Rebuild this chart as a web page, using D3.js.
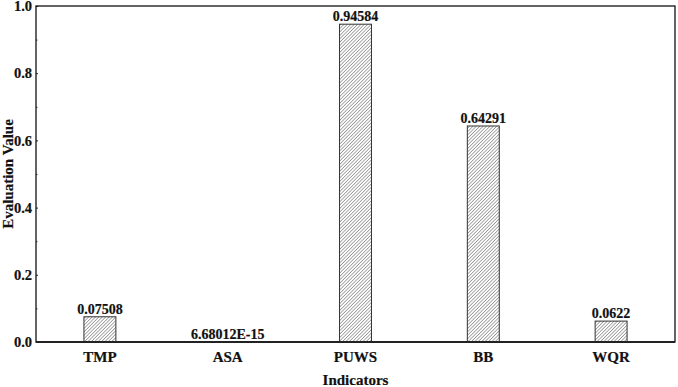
<!DOCTYPE html>
<html>
<head>
<meta charset="UTF-8">
<title>Evaluation Value</title>
<script src="https://d3js.org/d3.v7.min.js"></script>
<style>
  body { margin: 0; background: #fff; }
  svg text { font-family: "Liberation Serif", "Times New Roman", serif !important; font-weight: bold; fill: #111; stroke: #111; stroke-width: 0.2px; }
</style>
</head>
<body>
<div id="chart"></div>
<script>
// data
var categories = ["TMP", "ASA", "PUWS", "BB", "WQR"];
var values = [0.07508, 6.68012E-15, 0.94584, 0.64291, 0.0622];
var valueLabels = ["0.07508", "6.68012E-15", "0.94584", "0.64291", "0.0622"];
var yTicks = [0, 0.2, 0.4, 0.6, 0.8, 1.0];
var yMinorTicks = [0.1, 0.3, 0.5, 0.7, 0.9];

var width = 678, height = 387;
var margin = { top: 6, right: 3, bottom: 45, left: 36 };
var w = width - margin.left - margin.right;
var h = height - margin.top - margin.bottom;

var svg = d3.select("#chart").append("svg")
    .attr("width", width)
    .attr("height", height);

// hatch pattern
var step = 2.4;
var pat = svg.append("defs").append("pattern")
    .attr("id", "hatch")
    .attr("patternUnits", "userSpaceOnUse")
    .attr("width", step)
    .attr("height", step)
    .attr("patternTransform", "rotate(45)");
pat.append("rect").attr("width", step).attr("height", step).attr("fill", "#fff");
pat.append("line")
    .attr("x1", 0).attr("y1", 0).attr("x2", 0).attr("y2", step)
    .attr("stroke", "#555").attr("stroke-width", 1);

var g = svg.append("g").attr("transform", "translate(" + margin.left + "," + margin.top + ")");

var x = d3.scaleBand().domain(categories).range([0, w]).padding(0);
var y = d3.scaleLinear().domain([0, 1]).range([h, 0]);
var barW = x.bandwidth() * 0.25;

// bars
g.selectAll("rect.bar")
    .data(values)
    .enter().append("rect")
    .attr("class", "bar")
    .attr("x", function (d, i) { return x(categories[i]) + x.bandwidth() / 2 - barW / 2; })
    .attr("y", function (d) { return y(d); })
    .attr("width", barW)
    .attr("height", function (d) { return h - y(d); })
    .attr("fill", "url(#hatch)")
    .attr("stroke", "#333")
    .attr("stroke-width", 1);

// value labels
g.selectAll("text.val")
    .data(values)
    .enter().append("text")
    .attr("class", "val")
    .attr("x", function (d, i) { return x(categories[i]) + x.bandwidth() / 2; })
    .attr("y", function (d) { return y(d) - 3; })
    .attr("text-anchor", "middle")
    .attr("font-size", "14px")
    .text(function (d, i) { return valueLabels[i]; });

// y axis
var yAxis = g.append("g")
    .call(d3.axisLeft(y).tickValues(yTicks).tickFormat(d3.format(".1f")).tickSize(-2).tickPadding(4));
yAxis.selectAll("text").attr("font-size", "14.5px");
yAxis.selectAll(".tick line").attr("stroke", "#222");
yAxis.select(".domain").remove();
g.append("g")
    .call(d3.axisLeft(y).tickValues(yMinorTicks).tickFormat("").tickSize(-1.5))
    .call(function (s) { s.select(".domain").remove(); s.selectAll("line").attr("stroke", "#444"); });

// x axis
var xAxis = g.append("g")
    .attr("transform", "translate(0," + h + ")")
    .call(d3.axisBottom(x).tickSize(0).tickPadding(9));
xAxis.select(".domain").remove();
xAxis.selectAll("text").attr("font-size", "15px");

// frame
g.append("rect")
    .attr("width", w).attr("height", h)
    .attr("fill", "none")
    .attr("stroke", "#111")
    .attr("stroke-width", 1.3);
g.append("line")
    .attr("x1", 0).attr("x2", w).attr("y1", h).attr("y2", h)
    .attr("stroke", "#222").attr("stroke-width", 2);

// axis titles
svg.append("text")
    .attr("transform", "translate(13," + (margin.top + h / 2) + ") rotate(-90)")
    .attr("text-anchor", "middle")
    .attr("font-size", "15px")
    .text("Evaluation Value");
svg.append("text")
    .attr("x", margin.left + w / 2)
    .attr("y", 385)
    .attr("text-anchor", "middle")
    .attr("font-size", "15px")
    .text("Indicators");
</script>
</body>
</html>
